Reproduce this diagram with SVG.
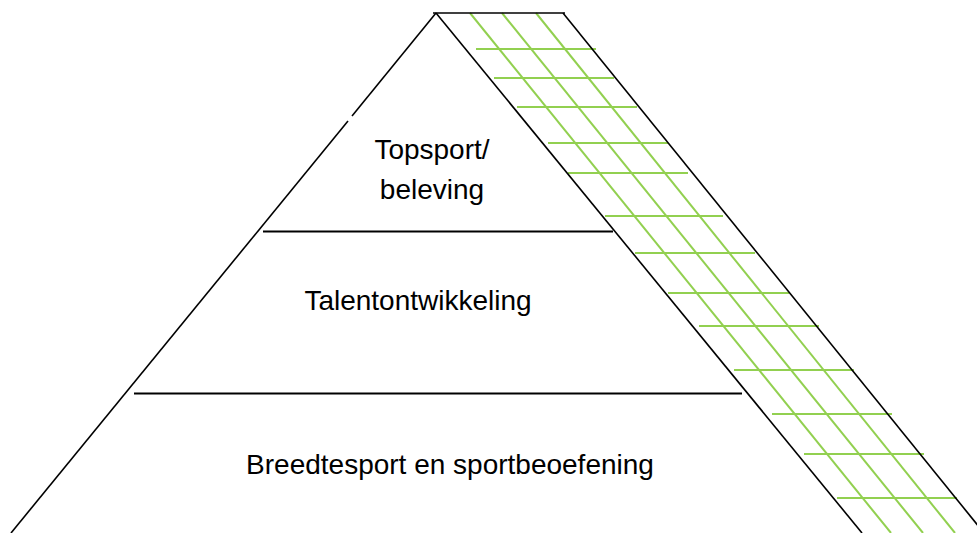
<svg xmlns="http://www.w3.org/2000/svg" width="977" height="533" viewBox="0 0 977 533">
<style>
.k{stroke:#000;stroke-width:1.6;fill:none;stroke-linecap:butt}
.g{stroke:#92D050;stroke-width:2;fill:none}
.t{font-family:"Liberation Sans",Arial,sans-serif;font-size:28px;fill:#000;text-anchor:middle}
</style>
<rect width="977" height="533" fill="#fff"/>
<g id="connectors">
<g id="grid">
<line class="g" x1="470" y1="13" x2="891" y2="533"/>
<line class="g" x1="502" y1="13" x2="923" y2="533"/>
<line class="g" x1="536" y1="13" x2="955" y2="533"/>
<line class="g" x1="476" y1="49" x2="596" y2="49"/>
<line class="g" x1="494" y1="78" x2="614" y2="78"/>
<line class="g" x1="517" y1="107" x2="637" y2="107"/>
<line class="g" x1="548" y1="143" x2="668" y2="143"/>
<line class="g" x1="568" y1="173" x2="688" y2="173"/>
<line class="g" x1="605" y1="216" x2="723" y2="216"/>
<line class="g" x1="635" y1="253" x2="755" y2="253"/>
<line class="g" x1="668" y1="293" x2="789" y2="293"/>
<line class="g" x1="699" y1="326" x2="819" y2="326"/>
<line class="g" x1="734" y1="370" x2="854" y2="370"/>
<line class="g" x1="772" y1="414" x2="892" y2="414"/>
<line class="g" x1="804" y1="454" x2="924" y2="454"/>
<line class="g" x1="837" y1="498" x2="957" y2="498"/>
</g>
<line class="k" x1="436" y1="13" x2="352" y2="116"/>
<line class="k" x1="348" y1="121" x2="11" y2="533"/>
<line class="k" x1="436" y1="13" x2="862" y2="533"/>
<line class="k" x1="433" y1="13" x2="565" y2="13"/>
<line class="k" x1="563" y1="13" x2="984" y2="533"/>
<line class="k" x1="263" y1="231.5" x2="613" y2="231.5" style="stroke-width:2"/>
<line class="k" x1="134" y1="393.5" x2="742" y2="393.5" style="stroke-width:2"/>
</g>
<g id="top">
<text class="t" x="432" y="159">Topsport/</text>
<text class="t" x="432" y="199">beleving</text>
</g>
<g id="middle">
<text class="t" x="418" y="310">Talentontwikkeling</text>
</g>
<g id="bottom">
<text class="t" x="450" y="474">Breedtesport en sportbeoefening</text>
</g>
</svg>
